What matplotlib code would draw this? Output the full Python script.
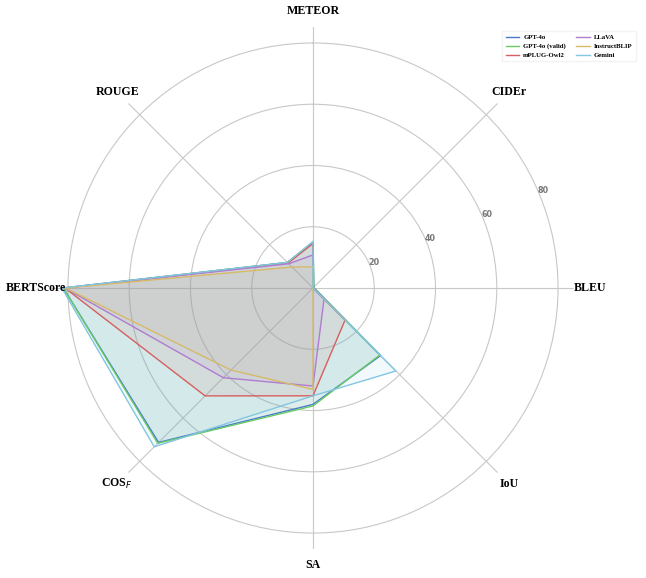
import matplotlib
matplotlib.use('Agg')
import matplotlib.pyplot as plt
import numpy as np

# Metrics, clockwise from the top
metrics = ['METEOR', 'CIDEr', 'BLEU', 'IoU', 'SA', 'COS$_F$', 'BERTScore', 'ROUGE']

models = ['GPT-4o', 'GPT-4o (valid)', 'mPLUG-Owl2', 'LLaVA', 'InstructBLIP', 'Gemini']
gpt4o = [15.0, 0.4, 0.4, 31.2, 38.0, 71.3, 81.5, 11.8]
gpt4o_valid = [15.0, 0.4, 0.4, 30.9, 38.5, 71.7, 81.5, 11.8]
mplug_owl2 = [14.5, 0.0, 0.0, 14.8, 35.2, 49.8, 81.0, 11.5]
llava = [10.8, 0.0, 0.0, 5.1, 32.0, 41.4, 81.0, 11.2]
instructblip = [6.9, 0.0, 0.0, 0.0, 33.1, 37.9, 80.8, 9.7]
gemini = [15.2, 0.0, 0.0, 38.3, 35.2, 73.3, 82.0, 11.8]
series = [gpt4o, gpt4o_valid, mplug_owl2, llava, instructblip, gemini]

colors = ['#4878d0', '#6acc64', '#d65f5f', '#b07cd0', '#d5bb67', '#82c6e2']

r_ticks = [20, 40, 60, 80]
r_max = 85.2

fig = plt.figure(figsize=(6.46, 5.78), dpi=100)
ax = fig.add_axes([0.0805, 0.0502, 0.808, 0.903], projection='polar')
ax.set_theta_offset(np.pi / 2)
ax.set_theta_direction(-1)

angles = np.linspace(0, 2 * np.pi, len(metrics), endpoint=False)
closed = np.concatenate([angles, angles[:1]])

for vals, col, name in zip(series, colors, models):
    v = np.concatenate([vals, vals[:1]])
    ax.fill(closed, v, color=col, alpha=0.10, linewidth=0)
    ax.plot(closed, v, color=col, linewidth=1.0, label=name)

ax.set_ylim(0, r_max)
ax.set_xticks(angles)
ax.set_xticklabels([])
ax.set_yticks(r_ticks)
ax.set_yticklabels([])
ax.spines['polar'].set_visible(False)
ax.grid(True, color='#c8c8c8', linewidth=0.8)
ax.set_axisbelow(True)

# axis labels
for a, m in zip(angles, metrics):
    ax.text(a, 90.4, m, ha='center', va='center', fontsize=8.6,
            fontweight='bold', family='Liberation Serif', clip_on=False)

# radial tick labels
for t in r_ticks:
    ax.text(np.radians(67), t + 1.6, str(t), ha='center', va='center',
            fontsize=5.8, fontweight='bold', color='#777777')

fig.legend(loc='upper right', bbox_to_anchor=(639 / 646, 1 - 28 / 578), ncol=2,
           prop={'family': 'Liberation Serif', 'weight': 'bold', 'size': 4.9},
           frameon=True, fancybox=False, edgecolor='#f0f0f0', handlelength=2.0,
           handletextpad=0.6, columnspacing=1.5, labelspacing=0.45, borderpad=0.45)

fig.savefig('out.png', dpi=100)
